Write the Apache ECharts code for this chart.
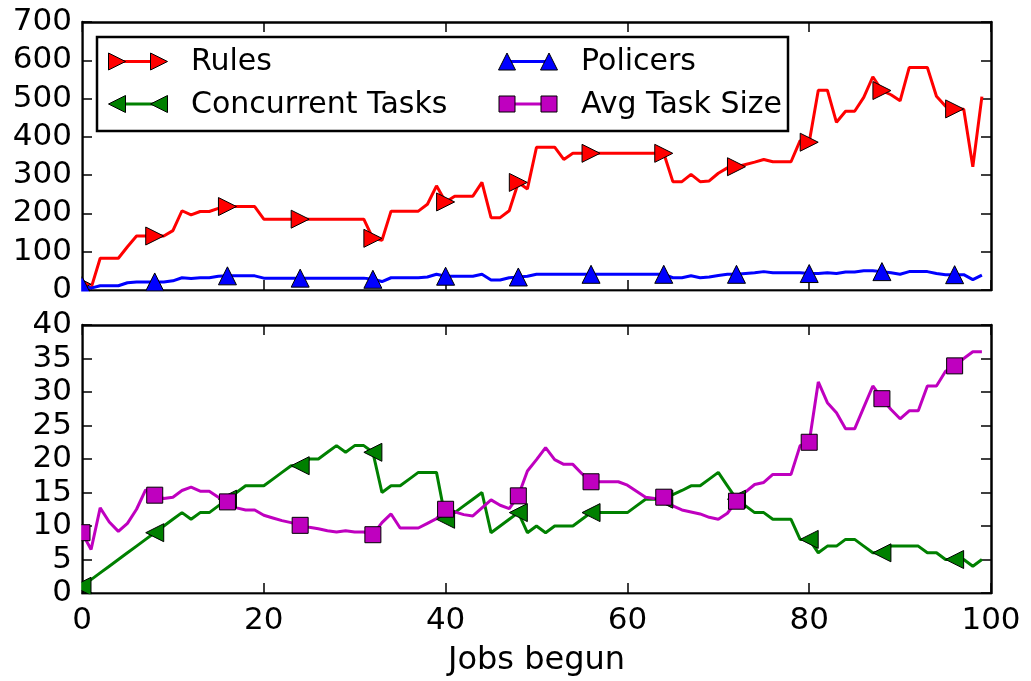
<!DOCTYPE html>
<html>
<head>
<meta charset="utf-8">
<script src="https://cdn.jsdelivr.net/npm/echarts@6/dist/echarts.min.js"></script>
<style>
  html, body { margin: 0; padding: 0; background: #fff; }
  #chart { width: 1031px; height: 681px; }
</style>
</head>
<body>
<div id="chart"></div>
<script>
// Jobs begun (x) for every sample
const jobsBegun = [...Array(100).keys()];

// Top panel: number of rules and policers installed
const rules = [
  15, 5, 83, 83, 83, 113, 141, 141, 141, 141,
  155, 207, 196, 205, 205, 213, 218, 218, 218, 218,
  185, 185, 185, 185, 185, 185, 185, 185, 185, 185,
  185, 185, 135, 130, 206, 206, 206, 206, 224, 272,
  230, 245, 245, 245, 281, 189, 189, 207, 281, 264,
  373, 373, 373, 341, 357, 357, 357, 357, 357, 357,
  357, 357, 357, 357, 357, 283, 283, 302, 283, 285,
  305, 319, 322, 328, 334, 341, 335, 335, 335, 390,
  386, 522, 522, 438, 467, 467, 503, 557, 521, 510,
  494, 581, 581, 581, 506, 480, 473, 472, 322, 505
];
const policers = [
  12, 5, 11, 11, 11, 19, 21, 21, 21, 21,
  24, 32, 30, 32, 32, 36, 37, 37, 37, 37,
  31, 31, 31, 31, 31, 31, 31, 31, 31, 31,
  31, 31, 28, 22, 32, 32, 32, 32, 34, 41,
  36, 36, 36, 36, 41, 26, 26, 32, 34, 36,
  41, 41, 41, 41, 41, 41, 41, 41, 41, 41,
  41, 41, 41, 41, 41, 32, 32, 37, 32, 34,
  38, 41, 41, 43, 45, 48, 45, 45, 45, 45,
  43, 43, 45, 43, 47, 47, 50, 50, 48, 45,
  41, 48, 48, 48, 43, 40, 40, 40, 27, 39
];

// Bottom panel: concurrent tasks and average task size
const concurrentTasks = [
  1, 2, 3, 4, 5, 6, 7, 8, 9, 10,
  11, 12, 11, 12, 12, 13, 14, 15, 16, 16,
  16, 17, 18, 19, 19, 20, 20, 21, 22, 21,
  22, 22, 21, 15, 16, 16, 17, 18, 18, 18,
  11, 12, 13, 14, 15, 9, 10, 11, 12, 9,
  10, 9, 10, 10, 10, 11, 12, 12, 12, 12,
  12, 13, 14, 14, 14, 14.7, 15.3, 16, 16, 17,
  18, 16, 14, 13, 12, 12, 11, 11, 11, 8,
  8, 6, 7, 7, 8, 8, 7, 6, 6, 7,
  7, 7, 7, 6, 6, 5, 5, 5, 4, 5
];
const avgTaskSize = [
  9.0, 6.5, 12.7, 10.6, 9.2, 10.4, 12.5, 15.4, 14.6, 14.1,
  14.3, 15.3, 15.8, 15.2, 15.2, 14.3, 13.6, 12.7, 12.4, 12.4,
  11.6, 11.2, 10.8, 10.5, 10.1, 9.8, 9.6, 9.3, 9.1, 9.3,
  9.1, 9.1, 8.7, 10.5, 11.8, 9.7, 9.7, 9.7, 10.4, 11.1,
  12.5, 12.1, 11.7, 11.5, 12.7, 13.9, 13.1, 12.6, 14.5, 18.2,
  19.9, 21.7, 19.9, 19.2, 19.2, 17.8, 16.6, 16.6, 16.6, 16.6,
  16.1, 15.2, 14.3, 14.1, 14.3, 13.0, 12.4, 12.1, 11.8, 11.3,
  11.0, 11.9, 13.7, 15.1, 16.2, 16.5, 17.7, 17.7, 17.7, 22.0,
  22.5, 31.5, 28.4, 26.9, 24.5, 24.5, 27.7, 30.9, 29.0, 27.4,
  26.0, 27.2, 27.2, 30.9, 30.9, 33.1, 33.9, 35.0, 36.0, 36.0
];

const xTicks = { min: 0, max: 100, interval: 20 };
const topTicks = { min: 0, max: 700, interval: 100 };
const bottomTicks = { min: 0, max: 40, interval: 5 };

const FONT = 'DejaVu Sans';
const MARK_EVERY = 8;
const LINE_W = 3;
const pairs = ys => ys.map((v, i) => [jobsBegun[i], v]);

const chart = echarts.init(document.getElementById('chart'), null, { renderer: 'canvas' });

const grids = [
  { left: 82, top: 22, width: 909, height: 268 },
  { left: 82, top: 325, width: 909, height: 268 }
];

function frameAxis(base, extra) {
  return Object.assign({
    type: 'value',
    min: base.min, max: base.max, interval: base.interval,
    axisLine: { show: true, onZero: false, lineStyle: { color: '#000', width: 2.5 } },
    axisTick: { show: true, inside: true, length: 10, lineStyle: { color: '#000', width: 1.5 } },
    axisLabel: { show: false },
    splitLine: { show: false }
  }, extra);
}
const tickLabel = { show: true, color: '#000', fontFamily: FONT, fontSize: 31 };

const xAxis = [
  frameAxis(xTicks, { gridIndex: 0, position: 'bottom' }),
  frameAxis(xTicks, {
    gridIndex: 1, position: 'bottom',
    axisLabel: Object.assign({ margin: 12 }, tickLabel),
    name: 'Jobs begun', nameLocation: 'middle', nameGap: 52,
    nameTextStyle: { color: '#000', fontFamily: FONT, fontSize: 32 }
  }),
  frameAxis(xTicks, { gridIndex: 0, position: 'top' }),
  frameAxis(xTicks, { gridIndex: 1, position: 'top' })
];
const yAxis = [
  frameAxis(topTicks, { gridIndex: 0, position: 'left', axisLabel: Object.assign({ margin: 10 }, tickLabel) }),
  frameAxis(bottomTicks, { gridIndex: 1, position: 'left', axisLabel: Object.assign({ margin: 10 }, tickLabel) }),
  frameAxis(topTicks, { gridIndex: 0, position: 'right' }),
  frameAxis(bottomTicks, { gridIndex: 1, position: 'right' })
];

function lineSeries(name, ys, panel, color, symbol, rotate) {
  return {
    name, type: 'line', xAxisIndex: panel, yAxisIndex: panel,
    data: pairs(ys),
    showSymbol: true, showAllSymbol: true,
    symbol: (v, p) => (p.dataIndex % MARK_EVERY === 0 ? symbol : 'none'),
    symbolSize: symbol === 'rect' ? 16 : 18,
    symbolRotate: rotate,
    lineStyle: { color, width: LINE_W },
    itemStyle: { color, borderColor: '#000', borderWidth: 1 },
    emphasis: { disabled: true },
    animation: false
  };
}

const series = [
  lineSeries('Rules', rules, 0, '#ff0000', 'triangle', -90),
  lineSeries('Policers', policers, 0, '#0000ff', 'triangle', 0),
  lineSeries('Concurrent Tasks', concurrentTasks, 1, '#008000', 'triangle', 90),
  lineSeries('Avg Task Size', avgTaskSize, 1, '#bf00bf', 'rect', 0)
];

// Markers are clipped to the plot frame: white strips just outside each frame edge
const masks = [];
grids.forEach(g => {
  masks.push({ type: 'rect', z: 50, silent: true,
    shape: { x: g.left - 10, y: g.top - 2, width: 9.2, height: g.height + 14 },
    style: { fill: '#fff' } });
  masks.push({ type: 'rect', z: 50, silent: true,
    shape: { x: g.left - 10, y: g.top + g.height + 1.4, width: g.width + 20, height: 9.5 },
    style: { fill: '#fff' } });
});

// Legend box with a short line and two markers per entry
const legendEntries = [
  { label: 'Rules', color: '#ff0000', marker: 'right', x: 117, y: 61.5 },
  { label: 'Policers', color: '#0000ff', marker: 'up', x: 507, y: 61.5 },
  { label: 'Concurrent Tasks', color: '#008000', marker: 'left', x: 117, y: 104 },
  { label: 'Avg Task Size', color: '#bf00bf', marker: 'square', x: 507, y: 104 }
];
const HANDLE = 42;
function markerShape(kind, cx, cy, color) {
  const h = 8.5;
  const style = { fill: color, stroke: '#000', lineWidth: 1 };
  if (kind === 'square') {
    return { type: 'rect', shape: { x: cx - 8, y: cy - 8, width: 16, height: 16 }, style };
  }
  let pts;
  if (kind === 'right') pts = [[cx - h, cy - h], [cx + h, cy], [cx - h, cy + h]];
  else if (kind === 'left') pts = [[cx + h, cy - h], [cx - h, cy], [cx + h, cy + h]];
  else pts = [[cx, cy - h], [cx + h, cy + h], [cx - h, cy + h]];
  return { type: 'polygon', shape: { points: pts }, style };
}
const legendGraphics = [{
  type: 'rect', z: 100,
  shape: { x: 97, y: 37, width: 691, height: 94 },
  style: { fill: '#fff', stroke: '#000', lineWidth: 2.5 }
}];
legendEntries.forEach(e => {
  legendGraphics.push({
    type: 'line', z: 101,
    shape: { x1: e.x, y1: e.y, x2: e.x + HANDLE, y2: e.y },
    style: { stroke: e.color, lineWidth: LINE_W }
  });
  legendGraphics.push(Object.assign({ z: 102 }, markerShape(e.marker, e.x, e.y, e.color)));
  legendGraphics.push(Object.assign({ z: 102 }, markerShape(e.marker, e.x + HANDLE, e.y, e.color)));
  legendGraphics.push({
    type: 'text', z: 102,
    x: e.x + 74, y: e.y + 1,
    style: { text: e.label, fill: '#000', font: '30px "DejaVu Sans"', verticalAlign: 'middle' }
  });
});

chart.setOption({
  animation: false,
  backgroundColor: '#fff',
  grid: grids,
  xAxis, yAxis, series,
  graphic: masks.concat(legendGraphics)
});
</script>
</body>
</html>
